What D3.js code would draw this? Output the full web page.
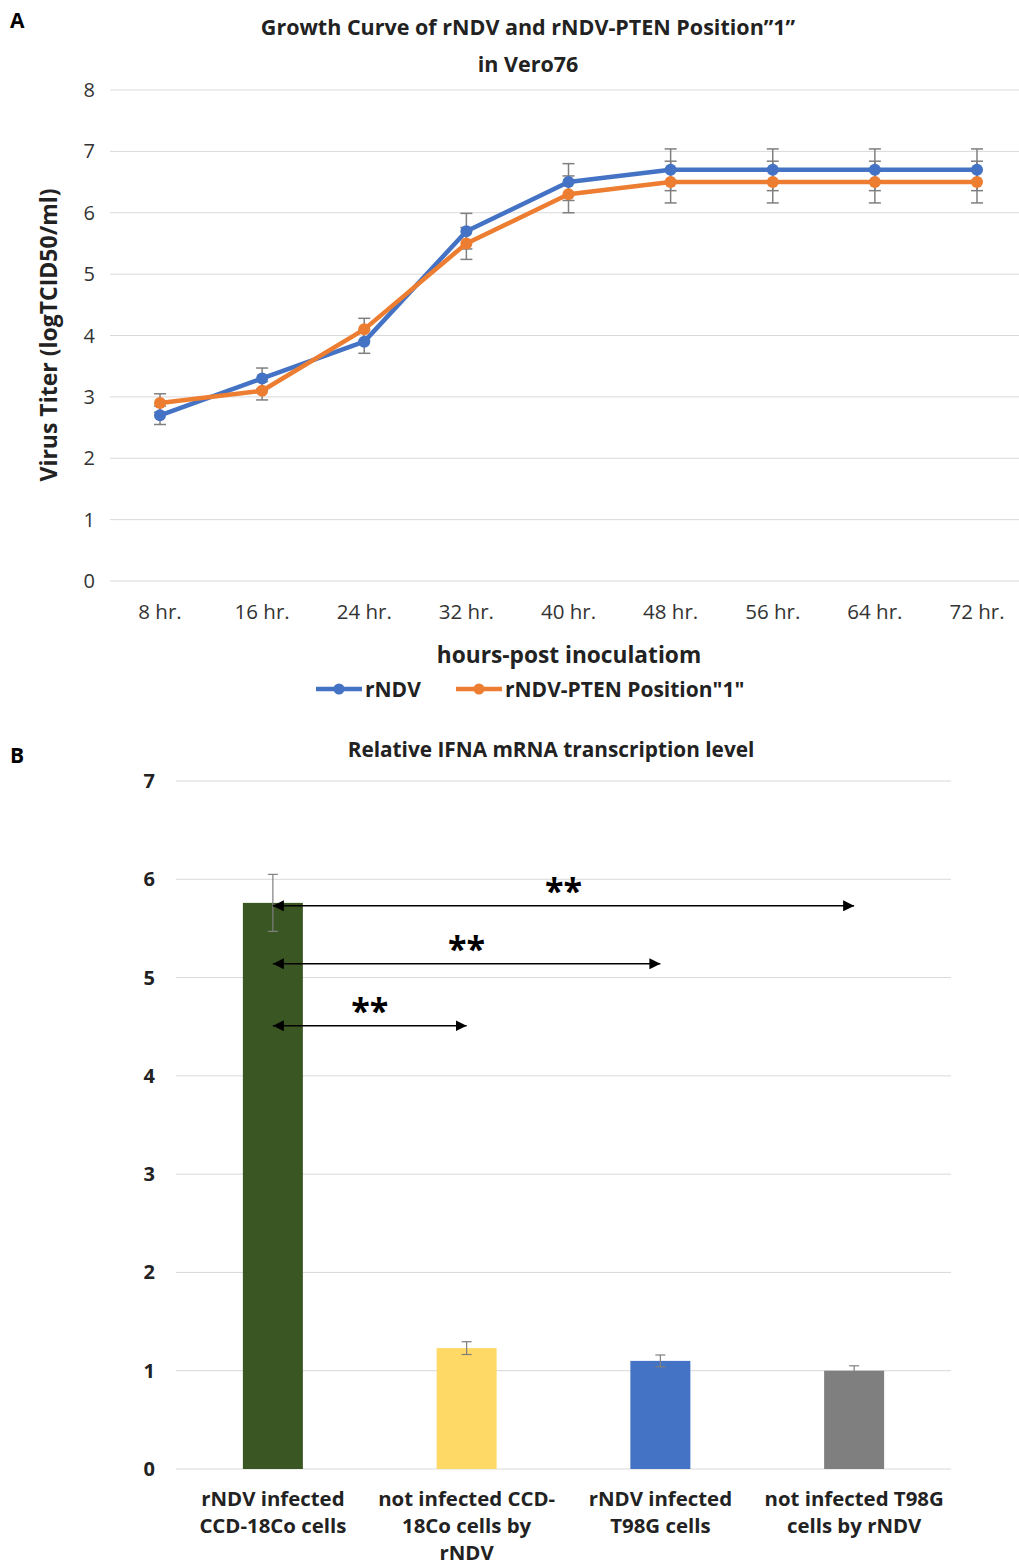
<!DOCTYPE html>
<html>
<head>
<meta charset="utf-8">
<script src="https://cdn.jsdelivr.net/npm/d3@7"></script>
<style>
  body { margin: 0; background: #fff; }
  svg { display: block; font-family: "Open Sans", "Noto Sans", sans-serif; }
</style>
</head>
<body>
<div id="chart"></div>
<script>
// ---- panel A data ----
var hours = ["8 hr.", "16 hr.", "24 hr.", "32 hr.", "40 hr.", "48 hr.", "56 hr.", "64 hr.", "72 hr."];
var rndv = [2.7, 3.3, 3.9, 5.7, 6.5, 6.7, 6.7, 6.7, 6.7];
var rndvErr = [0.15, 0.17, 0.19, 0.29, 0.3, 0.34, 0.34, 0.34, 0.34];
var pten = [2.9, 3.1, 4.1, 5.5, 6.3, 6.5, 6.5, 6.5, 6.5];
var ptenErr = [0.15, 0.15, 0.18, 0.26, 0.3, 0.34, 0.34, 0.34, 0.34];
var seriesNames = ["rNDV", "rNDV-PTEN Position\"1\""];
var yTicksA = [0, 1, 2, 3, 4, 5, 6, 7, 8];

// ---- panel B data ----
var groups = [
    ["rNDV infected", "CCD-18Co cells"],
    ["not infected CCD-", "18Co cells by", "rNDV"],
    ["rNDV infected", "T98G cells"],
    ["not infected T98G", "cells by rNDV"]
];
var ifna = [5.76, 1.23, 1.1, 1.0];
var ifnaErr = [0.29, 0.065, 0.06, 0.05];
var barColors = ["#3a5622", "#ffd966", "#4472c4", "#7f7f7f"];
var yTicksB = [0, 1, 2, 3, 4, 5, 6, 7];
// significance arrows: from group 0 to group idx, drawn at level y
var sigTo = [3, 2, 1];
var sigLevel = [5.73, 5.14, 4.51];

var width = 1019, height = 1567;
var svg = d3.select("#chart").append("svg")
    .attr("width", width)
    .attr("height", height);

svg.append("defs").append("marker")
    .attr("id", "head")
    .attr("viewBox", "0 0 10 10")
    .attr("refX", 10).attr("refY", 5)
    .attr("markerWidth", 11).attr("markerHeight", 11)
    .attr("markerUnits", "userSpaceOnUse")
    .attr("orient", "auto-start-reverse")
    .append("path")
    .attr("d", "M0,0 L10,5 L0,10 Z")
    .attr("fill", "#000");

// ================= Panel A =================
var xA = d3.scalePoint().domain(hours).range([160, 977]);
var yA = d3.scaleLinear().domain([0, 8]).range([581, 90]);

svg.append("text").attr("x", 10).attr("y", 28)
    .attr("font-size", 21).attr("font-weight", "bold").text("A");

svg.append("text").attr("x", 528).attr("y", 35)
    .attr("text-anchor", "middle").attr("font-size", 21.5).attr("font-weight", "bold")
    .attr("fill", "#222")
    .text("Growth Curve of rNDV and rNDV-PTEN Position\u201d1\u201d");
svg.append("text").attr("x", 528).attr("y", 72)
    .attr("text-anchor", "middle").attr("font-size", 21.5).attr("font-weight", "bold")
    .attr("fill", "#222")
    .text("in Vero76");

var gA = svg.append("g");
gA.selectAll(".gridA").data(yTicksA).enter().append("line")
    .attr("x1", 110).attr("x2", 1019)
    .attr("y1", d => yA(d)).attr("y2", d => yA(d))
    .attr("stroke", "#d9d9d9").attr("stroke-width", 1);

gA.selectAll(".ytA").data(yTicksA).enter().append("text")
    .attr("x", 95).attr("y", d => yA(d) + 7)
    .attr("text-anchor", "end").attr("font-size", 20).attr("fill", "#333")
    .text(d => d);

gA.selectAll(".xtA").data(hours).enter().append("text")
    .attr("x", d => xA(d)).attr("y", 619)
    .attr("text-anchor", "middle").attr("font-size", 20.5).attr("fill", "#333")
    .text(d => d);

svg.append("text")
    .attr("transform", "translate(57,335) rotate(-90)")
    .attr("text-anchor", "middle").attr("font-size", 23).attr("font-weight", "bold")
    .attr("fill", "#222")
    .text("Virus Titer (logTCID50/ml)");

svg.append("text").attr("x", 569).attr("y", 663)
    .attr("text-anchor", "middle").attr("font-size", 22.7).attr("font-weight", "bold")
    .attr("fill", "#222")
    .text("hours-post inoculatiom");

var lineA = d3.line().x((d, i) => xA(hours[i])).y(d => yA(d));
var seriesA = [
    {vals: rndv, err: rndvErr, color: "#4472c4"},
    {vals: pten, err: ptenErr, color: "#ed7d31"}
];

// error bars first, lines on top
seriesA.forEach(function(s) {
    var eb = gA.append("g").attr("stroke", "#7f7f7f").attr("stroke-width", 1.5);
    s.vals.forEach(function(v, i) {
        var x = xA(hours[i]);
        eb.append("line").attr("x1", x).attr("x2", x)
            .attr("y1", yA(v - s.err[i])).attr("y2", yA(v + s.err[i]));
        [v - s.err[i], v + s.err[i]].forEach(function(e) {
            eb.append("line").attr("x1", x - 6).attr("x2", x + 6)
                .attr("y1", yA(e)).attr("y2", yA(e));
        });
    });
});
seriesA.forEach(function(s) {
    gA.append("path").datum(s.vals)
        .attr("d", lineA)
        .attr("fill", "none")
        .attr("stroke", s.color)
        .attr("stroke-width", 4.5)
        .attr("stroke-linejoin", "round");
    gA.selectAll(null).data(s.vals).enter().append("circle")
        .attr("cx", (d, i) => xA(hours[i])).attr("cy", d => yA(d))
        .attr("r", 6).attr("fill", s.color);
});

// legend
var legendX = [316, 456];
seriesA.forEach(function(s, i) {
    var lg = svg.append("g").attr("transform", "translate(" + legendX[i] + ",689)");
    lg.append("line").attr("x1", 0).attr("x2", 46).attr("y1", 0).attr("y2", 0)
        .attr("stroke", s.color).attr("stroke-width", 4.5);
    lg.append("circle").attr("cx", 23).attr("cy", 0).attr("r", 5.5).attr("fill", s.color);
    lg.append("text").attr("x", 49).attr("y", 7.5)
        .attr("font-size", 21).attr("font-weight", "bold").attr("fill", "#222")
        .text(seriesNames[i]);
});

// ================= Panel B =================
var xB = d3.scaleBand().domain(d3.range(groups.length)).range([176, 951]).paddingInner(0).paddingOuter(0);
var yB = d3.scaleLinear().domain([0, 7]).range([1469, 781]);
var barW = 60;

svg.append("text").attr("x", 10).attr("y", 763)
    .attr("font-size", 21).attr("font-weight", "bold").text("B");

svg.append("text").attr("x", 551).attr("y", 757)
    .attr("text-anchor", "middle").attr("font-size", 20.8).attr("font-weight", "bold")
    .attr("fill", "#222")
    .text("Relative IFNA mRNA transcription level");

var gB = svg.append("g");
gB.selectAll(".gridB").data(yTicksB).enter().append("line")
    .attr("x1", 176).attr("x2", 951)
    .attr("y1", d => yB(d)).attr("y2", d => yB(d))
    .attr("stroke", "#d9d9d9").attr("stroke-width", 1);

gB.selectAll(".ytB").data(yTicksB).enter().append("text")
    .attr("x", 155).attr("y", d => yB(d) + 7)
    .attr("text-anchor", "end").attr("font-size", 20).attr("font-weight", "bold")
    .attr("fill", "#222")
    .text(d => d);

function cx(i) { return xB(i) + xB.bandwidth() / 2; }

gB.selectAll(".bar").data(ifna).enter().append("rect")
    .attr("x", (d, i) => cx(i) - barW / 2)
    .attr("y", d => yB(d))
    .attr("width", barW)
    .attr("height", d => yB(0) - yB(d))
    .attr("fill", (d, i) => barColors[i]);

ifna.forEach(function(v, i) {
    var x = cx(i);
    var eb = gB.append("g").attr("stroke", "#7f7f7f").attr("stroke-width", 1.2);
    eb.append("line").attr("x1", x).attr("x2", x)
        .attr("y1", yB(v - ifnaErr[i])).attr("y2", yB(v + ifnaErr[i]));
    [v - ifnaErr[i], v + ifnaErr[i]].forEach(function(e) {
        eb.append("line").attr("x1", x - 5).attr("x2", x + 5)
            .attr("y1", yB(e)).attr("y2", yB(e));
    });
});

// x labels
groups.forEach(function(lines, i) {
    var t = gB.append("text")
        .attr("text-anchor", "middle").attr("font-size", 20.4).attr("font-weight", "bold")
        .attr("fill", "#222");
    lines.forEach(function(l, k) {
        t.append("tspan").attr("x", cx(i)).attr("y", 1506 + k * 27).text(l);
    });
});

// significance arrows
sigTo.forEach(function(j, k) {
    var y = yB(sigLevel[k]);
    gB.append("line")
        .attr("x1", cx(0)).attr("x2", cx(j))
        .attr("y1", y).attr("y2", y)
        .attr("stroke", "#000").attr("stroke-width", 1.5)
        .attr("marker-start", "url(#head)")
        .attr("marker-end", "url(#head)");
    gB.append("text")
        .attr("x", (cx(0) + cx(j)) / 2).attr("y", y - 3)
        .attr("text-anchor", "middle").attr("font-size", 34).attr("font-weight", "bold")
        .attr("fill", "#000")
        .text("**");
});
</script>
</body>
</html>
